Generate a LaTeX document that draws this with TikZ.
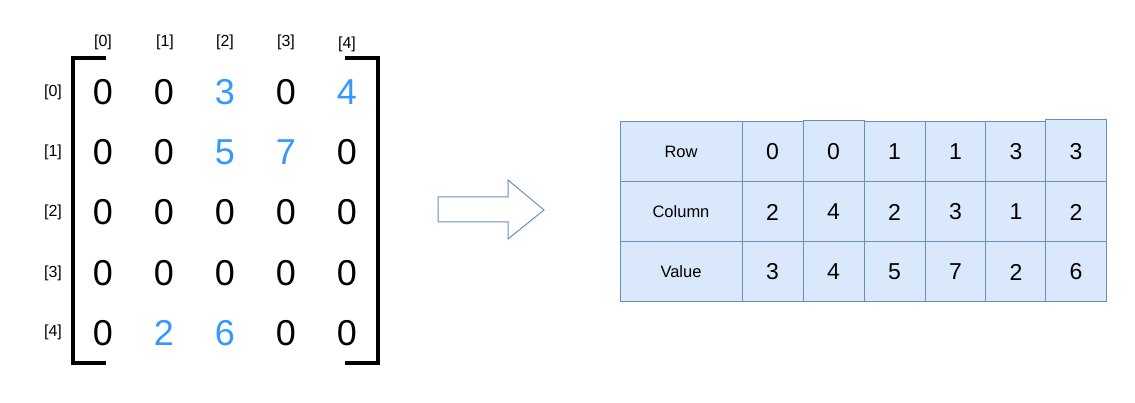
\documentclass[tikz,border=0pt]{standalone}
\usepackage{fontspec}
\setmainfont{Liberation Sans}
\definecolor{cellfill}{HTML}{DAE8FC}
\definecolor{cellline}{HTML}{6C8EBF}
\definecolor{hl}{HTML}{3399FF}
\tikzset{
  num/.style={font=\fontsize{36}{40}\selectfont, inner sep=0pt, anchor=center},
  hnum/.style={num, text=hl},
  idx/.style={font=\fontsize{16}{18}\selectfont, inner sep=0pt, anchor=center},
  brk/.style={line width=4pt, line cap=butt},
  cell/.style={draw=cellline, fill=cellfill, line width=1pt, inner sep=0pt},
  hdr/.style={font=\fontsize{16.5}{19}\selectfont},
  tnum/.style={font=\fontsize{23}{26}\selectfont},
  bigarrow/.style={draw=cellline, fill=white, line width=1pt, line join=miter}
}
\begin{document}
\begin{tikzpicture}[x=1pt,y=-1pt]
\useasboundingbox (0,0) rectangle (1135,403);
% column indices
\node[idx] (c0) at (103,42) {[0]};
\node[idx] (c1) at (165,42) {[1]};
\node[idx] (c2) at (225,42) {[2]};
\node[idx] (c3) at (286,42) {[3]};
\node[idx] (c4) at (347,44) {[4]};
% row indices
\node[idx] (r0) at (53,92) {[0]};
\node[idx] (r1) at (53,152) {[1]};
\node[idx] (r2) at (53,212) {[2]};
\node[idx] (r3) at (53,273) {[3]};
\node[idx] (r4) at (53,332) {[4]};
% brackets
\draw[brk] (106,58) -- (72.5,58) -- (72.5,363) -- (106,363);
\draw[brk] (345,58) -- (377.5,58) -- (377.5,363) -- (345,363);
% matrix entries
\node[num]  (m00) at (103,92) {0};
\node[num]  (m01) at (164,92) {0};
\node[hnum] (m02) at (225,92) {3};
\node[num]  (m03) at (286,92) {0};
\node[hnum] (m04) at (347,92) {4};
\node[num]  (m10) at (103,152) {0};
\node[num]  (m11) at (164,152) {0};
\node[hnum] (m12) at (225,152) {5};
\node[hnum] (m13) at (286,152) {7};
\node[num]  (m14) at (347,152) {0};
\node[num]  (m20) at (103,212) {0};
\node[num]  (m21) at (164,212) {0};
\node[num]  (m22) at (225,212) {0};
\node[num]  (m23) at (286,212) {0};
\node[num]  (m24) at (347,212) {0};
\node[num]  (m30) at (103,273) {0};
\node[num]  (m31) at (164,273) {0};
\node[num]  (m32) at (225,273) {0};
\node[num]  (m33) at (286,273) {0};
\node[num]  (m34) at (347,273) {0};
\node[num]  (m40) at (103,333) {0};
\node[hnum] (m41) at (164,333) {2};
\node[hnum] (m42) at (225,333) {6};
\node[num]  (m43) at (286,333) {0};
\node[num]  (m44) at (347,333) {0};
% big arrow
\draw[bigarrow] (438,197) -- (508,197) -- (508,180) -- (544,210) -- (508,239) -- (508,222) -- (438,222) -- cycle;
% table
\node[cell, hdr, minimum width=122pt, minimum height=60pt] (h0) at (681,152) {Row};
\node[cell, hdr, minimum width=122pt, minimum height=60pt] (h1) at (681,212) {Column};
\node[cell, hdr, minimum width=122pt, minimum height=60pt] (h2) at (681,272) {Value};
\foreach \i/\x/\ext/\a/\b/\c in {1/772.5/0/0/2/3, 2/833.5/1.5/0/4/4, 3/894.5/0/1/2/5, 4/955.5/0/1/3/7, 5/1016/0/3/1/2, 6/1076/2/3/2/6}{
  \node[cell, minimum width=61pt, minimum height=60pt+\ext pt] (t0\i) at (\x,152-\ext/2) {};
  \node[tnum, inner sep=0pt] (v0\i) at (\x,152) {\a};
  \node[cell, tnum, minimum width=61pt, minimum height=60pt] (t1\i) at (\x,212) {\b};
  \node[cell, tnum, minimum width=61pt, minimum height=60pt] (t2\i) at (\x,272) {\c};
}
\end{tikzpicture}
\end{document}
